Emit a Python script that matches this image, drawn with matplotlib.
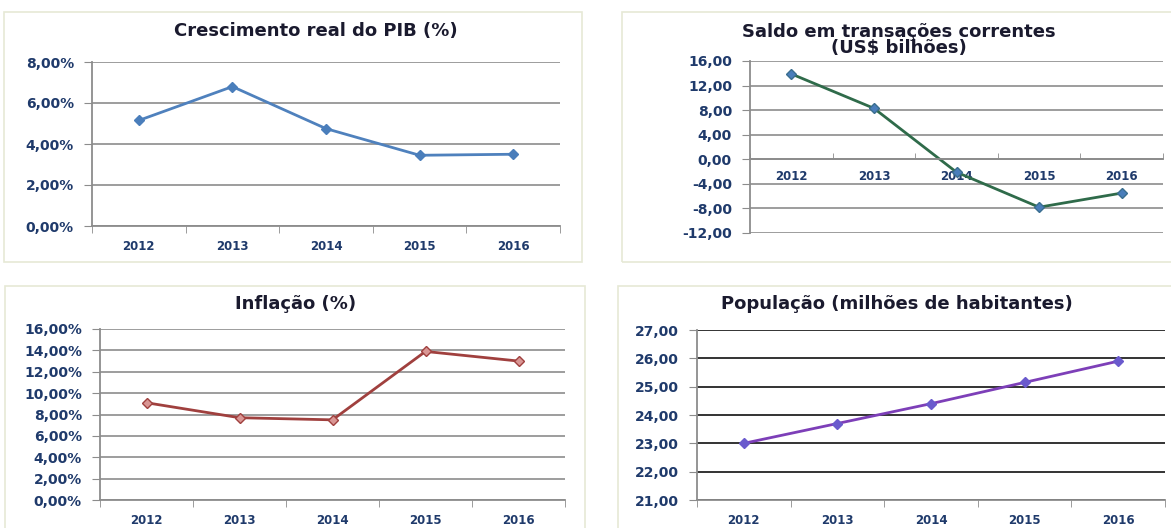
import matplotlib.pyplot as plt
from matplotlib.patches import Rectangle
from matplotlib.ticker import FuncFormatter, FixedLocator

plt.rcParams['font.weight'] = 'bold'

# data
anos = ['2012', '2013', '2014', '2015', '2016']
pib = [5.15, 6.80, 4.75, 3.45, 3.50]
saldo = [13.9, 8.3, -2.1, -7.8, -5.5]
inflacao = [9.1, 7.7, 7.5, 13.9, 13.0]
populacao = [23.0, 23.7, 24.4, 25.15, 25.9]

W, H = 1171, 528
TXT = '#1F3A6B'
TITLE = '#1A1A2E'
GRID = '#8C8C8C'


def fx(x):
    return x / W


def fy(y):
    return 1 - y / H


def ax_box(left, right, top, bottom):
    return [fx(left), fy(bottom), fx(right) - fx(left), fy(top) - fy(bottom)]


def pct(v, pos):
    return ('%.2f%%' % v).replace('.', ',')


def num(v, pos):
    return ('%.2f' % v).replace('.', ',')


def style(ax, grid_color=GRID, fmt=num):
    x = range(len(anos))
    ax.set_xlim(-0.5, len(anos) - 0.5)
    ax.set_xticks(list(x))
    ax.set_xticklabels(anos)
    ax.xaxis.set_minor_locator(FixedLocator([i - 0.5 for i in range(len(anos) + 1)]))
    ax.tick_params(axis='x', which='major', length=0, pad=10, labelsize=8.5, labelcolor=TXT)
    ax.tick_params(axis='x', which='minor', length=5, color=GRID, direction='out')
    ax.tick_params(axis='y', length=6, color=GRID, labelsize=10, labelcolor=TXT, pad=7)
    ax.yaxis.set_major_formatter(FuncFormatter(fmt))
    ax.grid(axis='y', color=grid_color, linewidth=1.2)
    ax.set_axisbelow(True)
    for s in ['top', 'right']:
        ax.spines[s].set_visible(False)
    for s in ['left', 'bottom']:
        ax.spines[s].set_color(GRID)
        ax.spines[s].set_linewidth(1.3)


fig = plt.figure(figsize=(W / 100, H / 100), dpi=100)

# panel frames
for (x0, y0, x1, y1) in [(4, 12, 582, 262), (622, 12, 1175, 262),
                         (5, 286, 585, 532), (618, 286, 1175, 532)]:
    fig.patches.append(Rectangle((fx(x0), fy(y1)), fx(x1) - fx(x0), fy(y0) - fy(y1),
                                 transform=fig.transFigure, fill=False,
                                 edgecolor='#E6E9D6', linewidth=1.2))

# Crescimento real do PIB
ax1 = fig.add_axes(ax_box(92, 560, 62, 226))
ax1.plot(range(5), pib, color='#4F81BD', linewidth=2, marker='D', markersize=5,
         markerfacecolor='#4A7EBB', markeredgecolor='#4A7EBB')
ax1.set_ylim(0, 8)
ax1.set_yticks([0, 2, 4, 6, 8])
style(ax1, fmt=pct)
fig.text(fx(316), fy(31), 'Crescimento real do PIB (%)', ha='center', va='center',
         fontsize=13, fontweight='bold', color=TITLE)

# Saldo em transacoes correntes
ax2 = fig.add_axes(ax_box(750, 1163, 61, 233))
ax2.plot(range(5), saldo, color='#2F6B4A', linewidth=2, marker='D', markersize=5,
         markerfacecolor='#4A7EBB', markeredgecolor='#3A6E8F')
ax2.set_ylim(-12, 16)
ax2.set_yticks(range(-12, 17, 4))
style(ax2)
ax2.spines['bottom'].set_position(('data', 0))
ax2.tick_params(axis='x', which='major', pad=8)
ax2.tick_params(axis='x', which='minor', direction='in', length=4)
fig.text(fx(899), fy(40), 'Saldo em transações correntes\n(US$ bilhões)', ha='center',
         va='center', fontsize=13, fontweight='bold', color=TITLE, linespacing=0.8)

# Inflacao
ax3 = fig.add_axes(ax_box(100, 565, 329, 500))
ax3.plot(range(5), inflacao, color='#A0403E', linewidth=2, marker='D', markersize=5,
         markerfacecolor='#D99694', markeredgecolor='#A0403E')
ax3.set_ylim(0, 16)
ax3.set_yticks(range(0, 17, 2))
style(ax3, fmt=pct)
fig.text(fx(296), fy(304), 'Inflação (%)', ha='center', va='center',
         fontsize=13, fontweight='bold', color=TITLE)

# Populacao
ax4 = fig.add_axes(ax_box(697, 1165, 330, 500))
ax4.plot(range(5), populacao, color='#7D3FB8', linewidth=2, marker='D', markersize=5,
         markerfacecolor='#6A5ACD', markeredgecolor='#6A5ACD')
ax4.set_ylim(21, 27)
ax4.set_yticks(range(21, 28))
style(ax4, grid_color='#111111')
fig.text(fx(897), fy(304), 'População (milhões de habitantes)', ha='center', va='center',
         fontsize=13, fontweight='bold', color=TITLE)

fig.savefig('out.png', dpi=100)
